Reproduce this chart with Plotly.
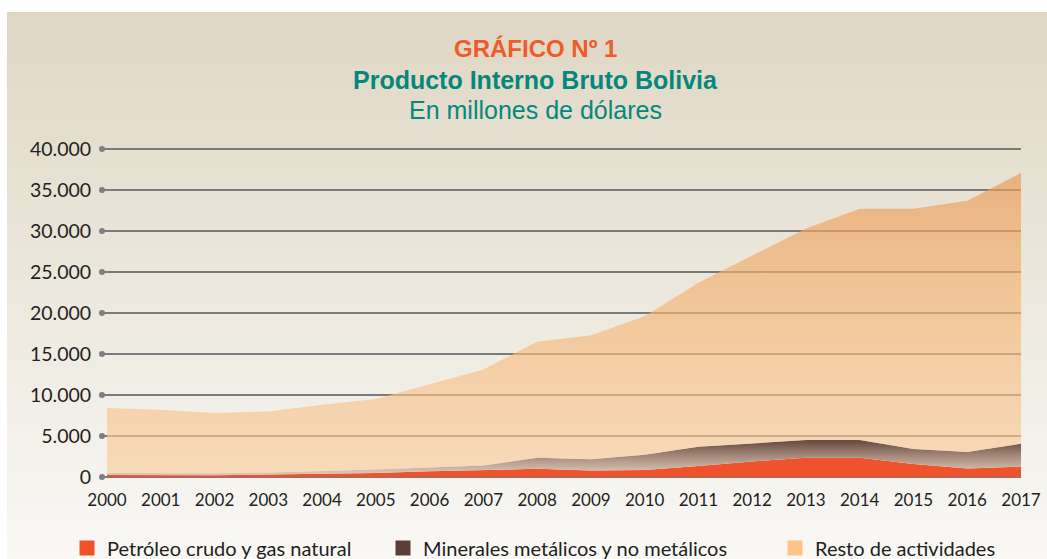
import plotly.graph_objects as go

# ---- data (millones de dólares) ----
years = list(range(2000, 2018))
petroleo = [250, 250, 200, 300, 400, 500, 700, 850, 1000, 800, 850, 1350, 1900, 2350, 2350, 1600, 1050, 1250]
minerales = [250, 250, 250, 250, 300, 400, 450, 550, 1350, 1350, 1850, 2350, 2200, 2150, 2150, 1800, 2000, 2800]
resto = [7900, 7700, 7350, 7450, 8100, 8600, 10150, 11700, 14150, 15150, 16900, 20000, 22900, 25800, 28200, 29300, 30650, 33040]
y_ticks = [0, 5000, 10000, 15000, 20000, 25000, 30000, 35000, 40000]
series_names = ["Petróleo crudo y gas natural", "Minerales metálicos y no metálicos", "Resto de actividades"]

W, H = 1047, 559
L, R, T, B = 102, 26, 145, 79
PW, PH = W - L - R, H - T - B
X0 = 2000 - 5 / (914 / 17)
UNIT = 328 / 40000          # px per unit
YMIN, YMAX = -3 / UNIT, 40000 + 4 / UNIT

def px(x):
    return (x - L) / PW

def py(y):
    return (H - B - y) / PH

fig = go.Figure()

# stacked areas
fig.add_trace(go.Scatter(
    x=years, y=petroleo, stackgroup="a", mode="lines", line=dict(width=0, color="#f0532b"),
    fillcolor="#f0532b", showlegend=False, hoverinfo="skip"))
fig.add_trace(go.Scatter(
    x=years, y=minerales, stackgroup="a", mode="lines", line=dict(width=0, color="#6e5247"),
    fillgradient=dict(type="vertical", start=600, stop=4300,
                      colorscale=[[0, "#d8c2b2"], [0.5, "#a88d7f"], [1, "#6b4f45"]]),
    showlegend=False, hoverinfo="skip"))
fig.add_trace(go.Scatter(
    x=years, y=resto, stackgroup="a", mode="lines", line=dict(width=0, color="#ecb987"),
    fillgradient=dict(type="vertical", start=0, stop=37000,
                      colorscale=[[0, "rgba(249,206,160,0.66)"], [0.5, "rgba(246,184,122,0.66)"],
                                  [1, "rgba(234,156,88,0.68)"]]),
    showlegend=False, hoverinfo="skip"))

# dots at the left end of gridlines
fig.add_trace(go.Scatter(
    x=[X0] * len(y_ticks), y=y_ticks, mode="markers",
    marker=dict(size=6, color="#7f7f7f"), cliponaxis=False, showlegend=False, hoverinfo="skip"))

# legend entries
leg_colors = ["#f0532b", "#5b3e36", "#fdc48a"]
for i, (nm, col) in enumerate(zip(series_names, leg_colors)):
    fig.add_trace(go.Scatter(
        x=[None], y=[None], mode="markers", name=nm,
        marker=dict(symbol="square", size=15, color=col),
        legend="legend" if i == 0 else f"legend{i+1}"))

# background gradient panel
shapes = []
n = 60
y_top, y_bot = 12, H
c_top, c_bot = (223, 215, 196), (249, 248, 245)
for k in range(n):
    ya = y_top + (y_bot - y_top) * k / n
    yb = y_top + (y_bot - y_top) * (k + 1) / n + 0.8
    t = (k + 0.5) / n
    c = tuple(round(c_top[j] + (c_bot[j] - c_top[j]) * t) for j in range(3))
    shapes.append(dict(type="rect", xref="paper", yref="paper", layer="below",
                       x0=px(7), x1=px(W + 2), y0=py(min(yb, H)), y1=py(ya),
                       line=dict(width=0), fillcolor="rgb(%d,%d,%d)" % c))

ann = [
    dict(text="<b>GRÁFICO Nº 1</b>", x=px(535), y=py(48), font=dict(size=24, color="#f15a29", family="Liberation Sans")),
    dict(text="<b>Producto Interno Bruto Bolivia</b>", x=px(535), y=py(80), font=dict(size=25, color="#05877b", family="Liberation Sans")),
    dict(text="En millones de dólares", x=px(535), y=py(110), font=dict(size=25, color="#05877b", family="Liberation Sans")),
]
for a in ann:
    a.update(xref="paper", yref="paper", showarrow=False, xanchor="center", yanchor="middle")

leg_font = dict(family="Lato", size=20, color="#231f20")
def leg(xpix):
    return dict(x=px(xpix), y=py(548), xanchor="left", yanchor="middle", orientation="h",
                bgcolor="rgba(0,0,0,0)", font=leg_font, itemwidth=30)

fig.update_layout(
    width=W, height=H,
    margin=dict(l=L, r=R, t=T, b=B, autoexpand=False),
    paper_bgcolor="white", plot_bgcolor="rgba(0,0,0,0)",
    separators=",.",
    shapes=shapes, annotations=ann,
    legend=leg(67), legend2=leg(383), legend3=leg(775),
    xaxis=dict(range=[X0, 2017], tickvals=years, ticktext=[str(y) for y in years],
               showgrid=False, zeroline=False, showline=False,
               ticks="outside", ticklen=5, tickcolor="rgba(0,0,0,0)",
               tickfont=dict(family="Lato", size=17, color="#231f20")),
    yaxis=dict(range=[YMIN, YMAX], tickvals=y_ticks, tickformat=",d",
               showgrid=True, gridcolor="#7a7a7a", gridwidth=2, zeroline=False, showline=False,
               ticks="outside", ticklen=6, tickcolor="rgba(0,0,0,0)",
               tickfont=dict(family="Lato", size=19.5, color="#231f20")),
)

fig.write_html("out.html", config={"displayModeBar": False},
               post_script="document.body.style.margin='0px';")
